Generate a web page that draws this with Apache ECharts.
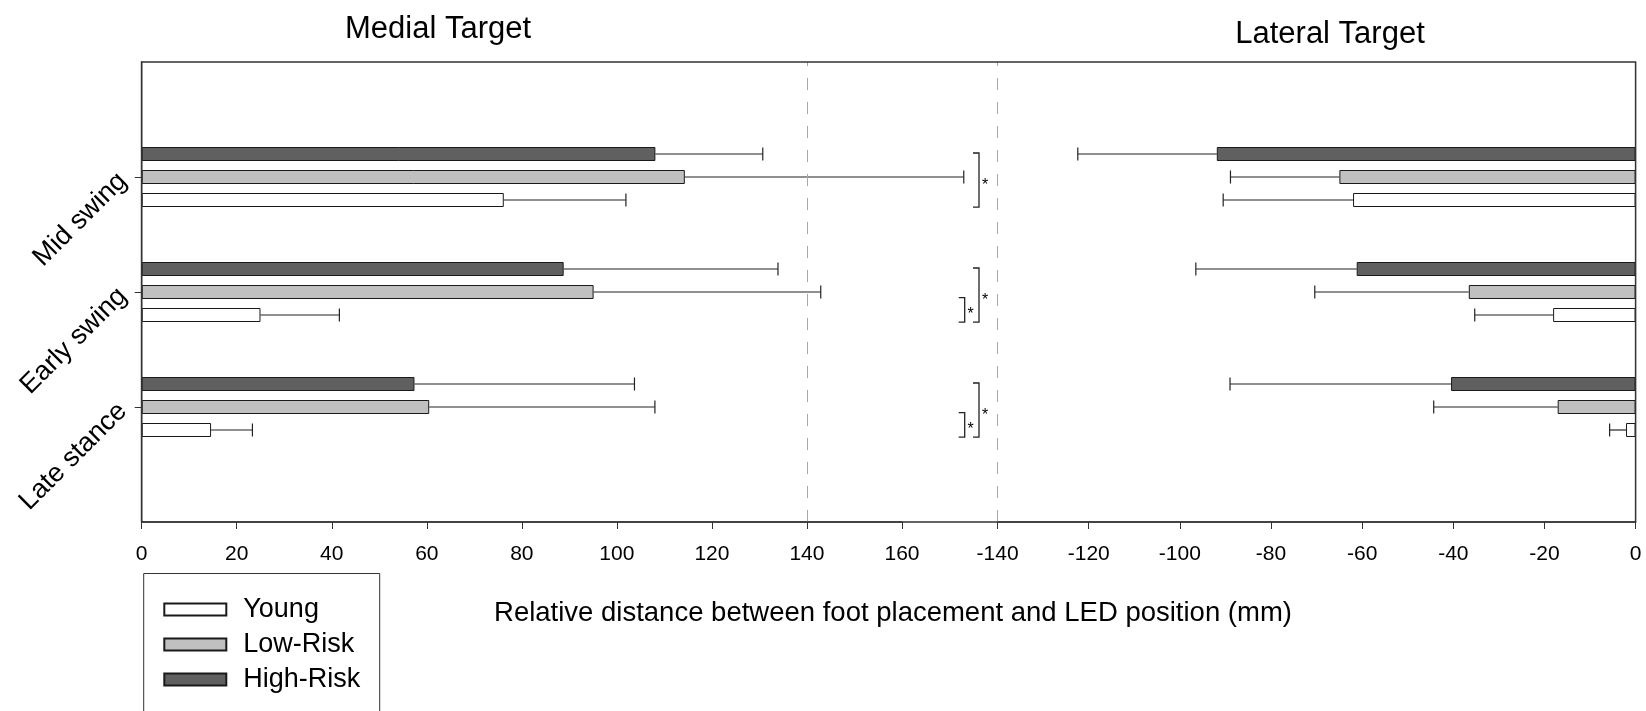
<!DOCTYPE html>
<html><head><meta charset="utf-8">
<script src="https://cdn.jsdelivr.net/npm/echarts@6/dist/echarts.min.js"></script>
<style>html,body{margin:0;padding:0;background:#fff}#c{width:1646px;height:711px}</style>
</head><body><div id="c"></div>
<script>
// ---- data ----
const categories = ['', 'Late stance', 'Early swing', 'Mid swing', ''];
const groups = ['Young', 'Low-Risk', 'High-Risk'];
const medialTicks = [0, 160, 20];
const lateralTicks = [-140, 0, 20];
// order: Late stance, Early swing, Mid swing
const medialYoung = [14.6, 25.0, 76.2];
const medialYoungSD = [8.7, 16.6, 25.7];
const medialLow = [60.5, 95.1, 114.3];
const medialLowSD = [47.5, 47.8, 58.7];
const medialHigh = [57.4, 88.8, 108.1];
const medialHighSD = [46.3, 45.1, 22.6];
const lateralYoung = [-2.1, -18.1, -62.0];
const lateralYoungSD = [3.6, 17.2, 28.5];
const lateralLow = [-17.1, -36.6, -65.0];
const lateralLowSD = [27.2, 33.8, 23.9];
const lateralHigh = [-40.5, -61.2, -91.9];
const lateralHighSD = [48.5, 35.3, 30.5];
// significance brackets: [category index, upper group, lower group, kind]
const brackets = [
  [3, 2, 0, 'big'],
  [2, 2, 0, 'big'], [2, 1, 0, 'small'],
  [1, 2, 0, 'big'], [1, 1, 0, 'small']
];

// ---- style ----
const FONT = 'Liberation Sans, Arial, sans-serif';
const colors = ['#ffffff', '#c0c0c0', '#606060'];
const BAR_W = 14, BAR_GAP = 9, STEP = BAR_W + BAR_GAP, CAP = 6.5;
const G_TOP = 62, G_H = 460;
const L_LEFT = 141.7, L_W = 760.3;
const R_LEFT = 997.6, R_W = 638;
const BR = { big: { x: 979, arm: 6 }, small: { x: 964.7, arm: 6 } };
const LEG = { x: 143.7, y: 573.5, w: 236 };

function slotOffset(g) { return (1 - g) * STEP; } // Young lowest, High-Risk top

function pad(arr) { return [null].concat(arr, [null]); }

function barSeries(name, g, vals, axis, mark) {
  const s = {
    name, type: 'bar', xAxisIndex: axis, yAxisIndex: axis,
    data: pad(vals), barWidth: BAR_W, barGap: (BAR_GAP / BAR_W * 100) + '%',
    itemStyle: { color: colors[g], borderColor: '#1a1a1a', borderWidth: 1 },
    emphasis: { disabled: true }, animation: false
  };
  if (mark !== undefined) {
    s.markLine = {
      silent: true, symbol: 'none', label: { show: false },
      lineStyle: { type: [12, 12], color: '#a8a8a8', width: 1 },
      data: [{ xAxis: mark }]
    };
  }
  return s;
}

function errSeries(g, vals, sds, axis, sign) {
  return {
    type: 'custom', xAxisIndex: axis, yAxisIndex: axis, animation: false, silent: true,
    encode: { x: 0, y: 1 },
    data: vals.map((v, i) => [v + sign * sds[i], i + 1, v]),
    renderItem: function (params, api) {
      const pm = api.coord([api.value(2), api.value(1)]);
      const pe = api.coord([api.value(0), api.value(1)]);
      const y = pm[1] + slotOffset(g);
      const st = { stroke: '#222', lineWidth: 1.2 };
      return { type: 'group', children: [
        { type: 'line', shape: { x1: pm[0], y1: y, x2: pe[0], y2: y }, style: st },
        { type: 'line', shape: { x1: pe[0], y1: y - CAP, x2: pe[0], y2: y + CAP }, style: st }
      ] };
    }
  };
}

const bracketSeries = {
  type: 'custom', xAxisIndex: 0, yAxisIndex: 0, animation: false, silent: true,
  encode: { x: 0, y: 1 },
  data: brackets.map(b => [0, b[0], b[1], b[2], b[3] === 'big' ? 1 : 0]),
  renderItem: function (params, api) {
    const c = api.coord([0, api.value(1)])[1];
    const kind = api.value(4) ? BR.big : BR.small;
    const topOff = api.value(4) ? -1 : 5.7;
    const y1 = c + slotOffset(api.value(2)) + topOff;
    const y2 = c + slotOffset(api.value(3)) + 7.2;
    const st = { stroke: '#222', lineWidth: 1.3, fill: 'none' };
    return { type: 'group', children: [
      { type: 'polyline', shape: { points: [[kind.x - kind.arm, y1], [kind.x, y1], [kind.x, y2], [kind.x - kind.arm, y2]] }, style: st },
      { type: 'text', style: { text: '*', x: kind.x + 6, y: (y1 + y2) / 2 + 5, align: 'center', verticalAlign: 'middle', fontSize: 16, fontFamily: FONT, fill: '#000' } }
    ] };
  }
};

function xAxis(grid, t) {
  return {
    type: 'value', gridIndex: grid, min: t[0], max: t[1], interval: t[2],
    axisLine: { show: true, lineStyle: { color: '#444', width: 1.5 } },
    axisTick: { show: true, length: 7, lineStyle: { color: '#333', width: 1 } },
    axisLabel: { fontSize: 21, margin: 22, color: '#000', fontFamily: FONT },
    splitLine: { show: false }
  };
}

const chart = echarts.init(document.getElementById('c'), null, { renderer: 'canvas' });
chart.setOption({
  backgroundColor: '#fff',
  animation: false,
  textStyle: { fontFamily: FONT },
  title: [
    { text: 'Medial Target', left: 438, top: 14, padding: 0, textAlign: 'center',
      textStyle: { fontSize: 31, fontWeight: 'normal', color: '#000', fontFamily: FONT } },
    { text: 'Lateral Target', left: 1330, top: 18.5, padding: 0, textAlign: 'center',
      textStyle: { fontSize: 31, fontWeight: 'normal', color: '#000', fontFamily: FONT } },
    { text: 'Relative distance between foot placement and LED position (mm)', left: 893, top: 599.5, padding: 0, textAlign: 'center',
      textStyle: { fontSize: 27.5, fontWeight: 'normal', color: '#000', fontFamily: FONT } }
  ],
  legend: {
    data: groups, orient: 'vertical', left: LEG.x, top: LEG.y,
    padding: [22.5, 20.6, 0, 19.6], itemWidth: 62, itemHeight: 12, itemGap: 8,
    icon: 'rect', selectedMode: false,
    textStyle: { fontSize: 27, lineHeight: 27, color: '#000', fontFamily: FONT, padding: [0, 0, 0, 12] }
  },
  grid: [
    { left: L_LEFT, top: G_TOP, width: L_W, height: G_H },
    { left: R_LEFT, top: G_TOP, width: R_W, height: G_H }
  ],
  xAxis: [xAxis(0, medialTicks), xAxis(1, lateralTicks)],
  yAxis: [
    { type: 'category', gridIndex: 0, data: categories, boundaryGap: false,
      axisLine: { show: true, lineStyle: { color: '#222', width: 1.3 } },
      axisTick: { show: true, length: 7, interval: (i, v) => v !== '', lineStyle: { color: '#333' } },
      axisLabel: { rotate: 45, fontSize: 27, margin: 19, color: '#000', fontFamily: FONT, interval: (i, v) => v !== '' },
      splitLine: { show: false } },
    { type: 'category', gridIndex: 1, data: categories, boundaryGap: false, show: false }
  ],
  graphic: [
    { type: 'rect', z: 100, silent: true,
      shape: { x: L_LEFT, y: G_TOP, width: R_LEFT + R_W - L_LEFT, height: G_H },
      style: { fill: 'none', stroke: '#333', lineWidth: 1.5 } },
    { type: 'rect', z: 100, silent: true,
      shape: { x: LEG.x, y: LEG.y, width: LEG.w, height: 200 },
      style: { fill: 'none', stroke: '#333', lineWidth: 1 } }
  ],
  series: [
    barSeries('High-Risk', 2, medialHigh, 0, 140),
    barSeries('Low-Risk', 1, medialLow, 0),
    barSeries('Young', 0, medialYoung, 0),
    barSeries('High-Risk', 2, lateralHigh, 1, -140),
    barSeries('Low-Risk', 1, lateralLow, 1),
    barSeries('Young', 0, lateralYoung, 1),
    errSeries(0, medialYoung, medialYoungSD, 0, 1),
    errSeries(1, medialLow, medialLowSD, 0, 1),
    errSeries(2, medialHigh, medialHighSD, 0, 1),
    errSeries(0, lateralYoung, lateralYoungSD, 1, -1),
    errSeries(1, lateralLow, lateralLowSD, 1, -1),
    errSeries(2, lateralHigh, lateralHighSD, 1, -1),
    bracketSeries
  ]
});
</script>
</body></html>
